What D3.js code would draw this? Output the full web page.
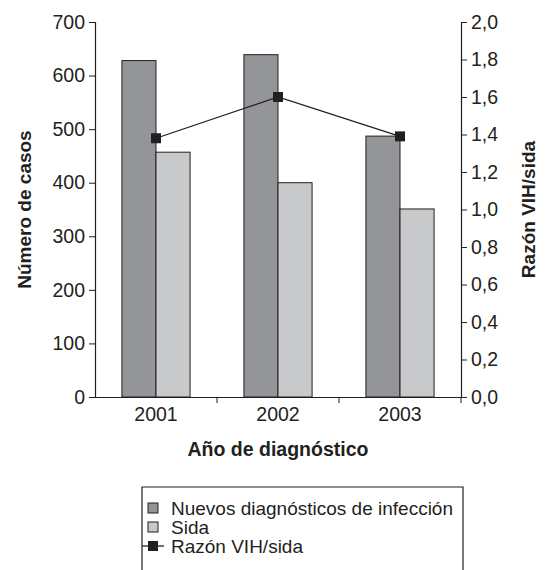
<!DOCTYPE html>
<html>
<head>
<meta charset="utf-8">
<script src="https://cdn.jsdelivr.net/npm/d3@7"></script>
<style>
  body { margin: 0; background: #fff; }
  text { font-family: "Liberation Sans", Arial, sans-serif; fill: #231f20; }
</style>
</head>
<body>
<script>
// chart data
var years = ["2001", "2002", "2003"];
var nuevos = [628, 639, 487];
var sida = [457, 400, 351];
var razon = [1.38, 1.60, 1.39];
var leftTicks = [0, 100, 200, 300, 400, 500, 600, 700];
var rightTicks = [0, 0.2, 0.4, 0.6, 0.8, 1.0, 1.2, 1.4, 1.6, 1.8, 2.0];
var seriesNames = ["Nuevos diagnósticos de infección", "Sida", "Razón VIH/sida"];

var svgWidth = 545, svgHeight = 570;
var margin = { top: 22, left: 95, right: 84, bottom: 173 };
var chartWidth = svgWidth - margin.left - margin.right;
var chartHeight = svgHeight - margin.top - margin.bottom;

var ink = "#231f20";
var darkFill = "#939598";
var lightFill = "#c8c9cb";

var svg = d3.select("body").append("svg")
  .attr("width", svgWidth)
  .attr("height", svgHeight);

var chartGroup = svg.append("g")
  .attr("transform", `translate(${margin.left}, ${margin.top})`);

var x0 = d3.scaleBand()
  .domain(years)
  .range([0, chartWidth]);

var x1 = d3.scaleBand()
  .domain(["nuevos", "sida"])
  .range([0, x0.bandwidth()])
  .paddingOuter(0.79);

var yLeft = d3.scaleLinear().domain([0, 700]).range([chartHeight, 0]);
var yRight = d3.scaleLinear().domain([0, 2]).range([chartHeight, 0]);

var rows = years.map(function(y, i) {
  return { year: y, nuevos: nuevos[i], sida: sida[i], razon: razon[i] };
});

// bars
var groups = chartGroup.selectAll(".grp")
  .data(rows)
  .enter()
  .append("g")
  .attr("class", "grp")
  .attr("transform", d => `translate(${x0(d.year)},0)`);

groups.append("rect")
  .attr("x", x1("nuevos"))
  .attr("y", d => yLeft(d.nuevos))
  .attr("width", x1.bandwidth())
  .attr("height", d => chartHeight - yLeft(d.nuevos))
  .attr("fill", darkFill)
  .attr("stroke", ink)
  .attr("stroke-width", 1);

groups.append("rect")
  .attr("x", x1("sida"))
  .attr("y", d => yLeft(d.sida))
  .attr("width", x1.bandwidth())
  .attr("height", d => chartHeight - yLeft(d.sida))
  .attr("fill", lightFill)
  .attr("stroke", ink)
  .attr("stroke-width", 1);

// axes
var fmtComma = d3.format(".1f");
var leftAxis = d3.axisLeft(yLeft).tickValues(leftTicks).tickSize(6).tickPadding(4);
var rightAxis = d3.axisRight(yRight).tickValues(rightTicks).tickSize(6).tickPadding(4)
  .tickFormat(d => fmtComma(d).replace(".", ","));
var bottomAxis = d3.axisBottom(x0).tickSize(0).tickPadding(10);

var gl = chartGroup.append("g").call(leftAxis);
var gr = chartGroup.append("g").attr("transform", `translate(${chartWidth},0)`).call(rightAxis);
var gb = chartGroup.append("g").attr("transform", `translate(0,${chartHeight})`).call(bottomAxis);

// year separator ticks on the x axis
chartGroup.append("g")
  .selectAll("line")
  .data(years.slice(1).concat(["end"]))
  .enter()
  .append("line")
  .attr("x1", (d, i) => x0.step() * (i + 1))
  .attr("x2", (d, i) => x0.step() * (i + 1))
  .attr("y1", chartHeight)
  .attr("y2", chartHeight + 6)
  .attr("stroke", ink);

[gl, gr, gb].forEach(function(g) {
  g.selectAll("path.domain").attr("stroke", ink).attr("stroke-width", 1.2);
  g.selectAll(".tick line").attr("stroke", ink);
  g.selectAll("text").attr("font-size", "19.5px").attr("fill", ink)
    .style("font-family", "'Liberation Sans', Arial, sans-serif");
});

// line for ratio
var line = d3.line()
  .x(d => x0(d.year) + x0.bandwidth() / 2)
  .y(d => yRight(d.razon));

chartGroup.append("path")
  .datum(rows)
  .attr("d", line)
  .attr("fill", "none")
  .attr("stroke", ink)
  .attr("stroke-width", 1.3);

chartGroup.selectAll(".mk")
  .data(rows)
  .enter()
  .append("rect")
  .attr("class", "mk")
  .attr("x", d => x0(d.year) + x0.bandwidth() / 2 - 5)
  .attr("y", d => yRight(d.razon) - 5)
  .attr("width", 10)
  .attr("height", 10)
  .attr("fill", ink);

// axis titles
svg.append("text")
  .attr("transform", `translate(31, ${margin.top + chartHeight / 2}) rotate(-90)`)
  .attr("text-anchor", "middle")
  .attr("font-size", "19px")
  .attr("font-weight", "bold")
  .text("Número de casos");

svg.append("text")
  .attr("transform", `translate(535, ${margin.top + chartHeight / 2}) rotate(-90)`)
  .attr("text-anchor", "middle")
  .attr("font-size", "19px")
  .attr("font-weight", "bold")
  .text("Razón VIH/sida");

svg.append("text")
  .attr("x", margin.left + chartWidth / 2)
  .attr("y", 456)
  .attr("text-anchor", "middle")
  .attr("font-size", "19.5px")
  .attr("font-weight", "bold")
  .text("Año de diagnóstico");

// legend (box is open at the bottom, cut by the image edge)
var legend = svg.append("g").attr("transform", "translate(142, 487)");

legend.append("path")
  .attr("d", "M0,90V0H321V90")
  .attr("fill", "none")
  .attr("stroke", ink)
  .attr("stroke-width", 1.2);

var legendRows = legend.selectAll(".lg")
  .data(seriesNames)
  .enter()
  .append("g")
  .attr("class", "lg")
  .attr("transform", (d, i) => `translate(0, ${21 + i * 19})`);

legendRows.filter((d, i) => i < 2).append("rect")
  .attr("x", 6)
  .attr("y", -5)
  .attr("width", 10)
  .attr("height", 10)
  .attr("fill", (d, i) => i === 0 ? darkFill : lightFill)
  .attr("stroke", ink);

legendRows.filter((d, i) => i === 2).append("line")
  .attr("x1", 0).attr("x2", 22)
  .attr("stroke", ink)
  .attr("stroke-width", 1.3);

legendRows.filter((d, i) => i === 2).append("rect")
  .attr("x", 6).attr("y", -5)
  .attr("width", 10).attr("height", 10)
  .attr("fill", ink);

legendRows.append("text")
  .attr("x", 29)
  .attr("y", 7)
  .attr("font-size", "19px")
  .text(d => d);
</script>
</body>
</html>
